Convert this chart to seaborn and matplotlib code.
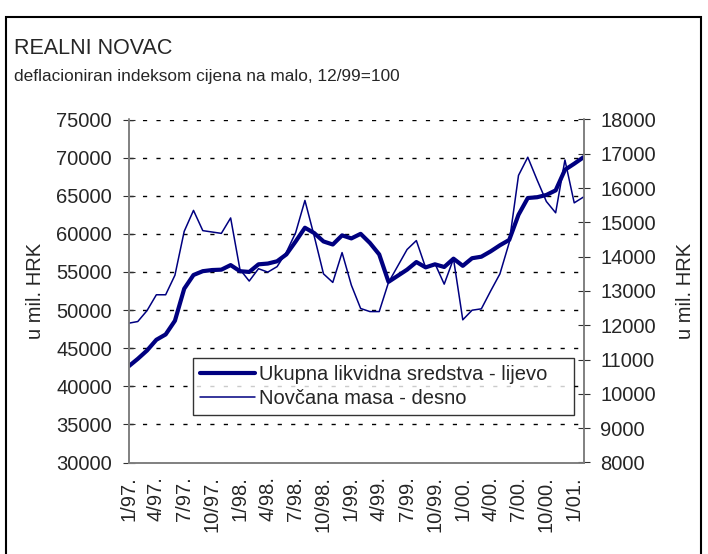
import numpy as np
import pandas as pd
import seaborn as sns
import matplotlib.pyplot as plt
from matplotlib.patches import Rectangle

# Podaci (mjesečno, 1/97. - 2/01.)
godine = ['97', '98', '99', '00', '01']
mjeseci = [f"{m}/{g}." for g in godine for m in range(1, 13)][:50]

ukupna_likvidna = [42600, 43600, 44700, 46100, 46800, 48600, 52800, 54600, 55100, 55250,
                   55300, 55900, 55100, 55000, 56000, 56100, 56400, 57300, 59000, 60800,
                   60100, 59000, 58600, 59800, 59400, 60000, 58800, 57300, 53700, 54500,
                   55300, 56300, 55600, 56000, 55650, 56740, 55800, 56800, 57000, 57700,
                   58500, 59200, 62500, 64700, 64800, 65100, 65700, 68400, 69200, 70050]

novcana_masa = [12060, 12110, 12430, 12890, 12890, 13460, 14740, 15350, 14760, 14720,
                14680, 15130, 13630, 13290, 13650, 13550, 13710, 14130, 14700, 15640,
                14600, 13500, 13250, 14120, 13170, 12490, 12400, 12400, 13250, 13730,
                14210, 14470, 13680, 13800, 13200, 13940, 12160, 12440, 12480, 13000,
                13500, 14410, 16370, 16900, 16240, 15610, 15280, 16820, 15570, 15740]

tick_labels = ['1/97.', '4/97.', '7/97.', '10/97.', '1/98.', '4/98.', '7/98.', '10/98.',
               '1/99.', '4/99.', '7/99.', '10/99.', '1/00.', '4/00.', '7/00.', '10/00.', '1/01.']

df = pd.DataFrame({'mjesec': mjeseci, 'ukupna': ukupna_likvidna, 'novcana': novcana_masa})
df['i'] = np.arange(len(df))

sns.set_style('white')
plt.rcParams['font.family'] = ['Liberation Sans', 'DejaVu Sans']

boja = '#000080'
siva = '#808080'
fs = 14.5

fig = plt.figure(figsize=(7.08, 5.54), dpi=100)
W, H = 708, 554
l, r, t, b = 128.5, 583.5, 119.5, 462.5
ax = fig.add_axes([l / W, 1 - b / H, (r - l) / W, (b - t) / H])
ax2 = ax.twinx()

sns.lineplot(data=df, x='i', y='ukupna', ax=ax, color=boja, linewidth=3.0,
             label='Ukupna likvidna sredstva - lijevo', legend=False)
sns.lineplot(data=df, x='i', y='novcana', ax=ax2, color=boja, linewidth=1.1,
             label='Novčana masa - desno', legend=False)

ax.set_xlim(0, len(df) - 1)
ax.set_ylim(30000, 75000)
ax2.set_ylim(8000, 18000)
ax.set_yticks(np.arange(30000, 75001, 5000))
ax2.set_yticks(np.arange(8000, 18001, 1000))
ax.set_xticks(df['i'][::3])
ax.set_xticklabels(tick_labels, rotation=90, fontsize=fs)
ax.tick_params(axis='y', labelsize=fs, direction='inout', length=8, color='#303030', pad=8)
ax.tick_params(axis='x', direction='inout', length=8, color='#303030', pad=6)
ax2.tick_params(axis='y', labelsize=fs, direction='inout', length=8, color='#303030', pad=8)

# isprekidana mreža
ax.yaxis.grid(True, color='black', linestyle=(0, (3, 6.7)), linewidth=1.0)
ax.set_axisbelow(True)

for a in (ax, ax2):
    a.spines['top'].set_visible(False)
    for s in ('left', 'right', 'bottom'):
        a.spines[s].set_color(siva)
        a.spines[s].set_linewidth(1.2)
    a.set_xlabel('')

ax.set_ylabel('u mil. HRK', fontsize=fs)
ax2.set_ylabel('u mil. HRK', fontsize=fs)
ax.yaxis.set_label_coords((45 - l) / (r - l), 0.5)
ax2.yaxis.set_label_coords((676 - l) / (r - l), 0.5)
ax2.yaxis.label.set_rotation(90)

h1, l1 = ax.get_legend_handles_labels()
h2, l2 = ax2.get_legend_handles_labels()
leg = fig.legend(h1 + h2, l1 + l2, loc='upper left', mode='expand',
                 bbox_to_anchor=(193 / W, 1 - 417 / H, (574 - 193) / W, (417 - 358) / H),
                 fontsize=fs, frameon=True, fancybox=False, edgecolor='black',
                 handlelength=2.75, handletextpad=0.2, borderpad=0.35,
                 labelspacing=0.25, borderaxespad=0)
leg.get_frame().set_linewidth(1.0)

fig.text(14 / W, 1 - 48 / H, 'REALNI NOVAC', fontsize=15.5, va='center', ha='left')
fig.text(14 / W, 1 - 76 / H, 'deflacioniran indeksom cijena na malo, 12/99=100',
         fontsize=12.4, va='center', ha='left')

fig.patches.append(Rectangle((6 / W, -0.05), (701 - 6) / W, 1.05 - 17 / H,
                             transform=fig.transFigure, fill=False,
                             edgecolor='black', linewidth=1.5))

fig.savefig('out.png', dpi=100)
